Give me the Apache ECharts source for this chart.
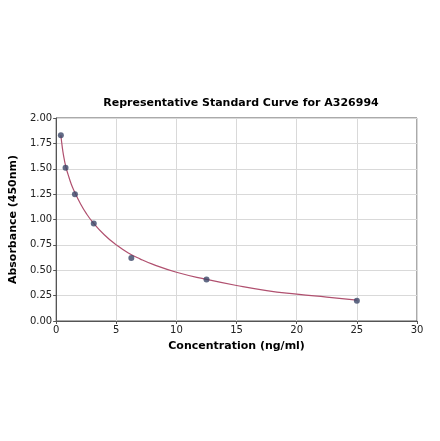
<!DOCTYPE html>
<html>
<head>
<meta charset="utf-8">
<script src="https://cdn.jsdelivr.net/npm/echarts@6/dist/echarts.min.js"></script>
<style>
  html, body { margin: 0; padding: 0; background: #fff; }
  #chart { width: 440px; height: 441px; }
</style>
</head>
<body>
<div id="chart"></div>
<script>
// Points standards
const concentrations = [0.39, 0.78, 1.56, 3.125, 6.25, 12.5, 25];
const absorbances = [1.83, 1.51, 1.25, 0.96, 0.62, 0.41, 0.20];

// Courbe ajustee
const courbeX = [0.39, 0.5, 0.6, 0.8, 1, 1.25, 1.5, 2, 2.5, 3, 4, 5, 6, 7, 8, 10, 12.5, 15, 17.5, 20, 22.5, 25];
const courbeY = [1.83, 1.72, 1.64, 1.52, 1.44, 1.35, 1.28, 1.16, 1.06, 0.98, 0.85, 0.75, 0.67, 0.61, 0.56, 0.48, 0.41, 0.35, 0.30, 0.265, 0.235, 0.205];

const axisColor = "#555";
const police = "DejaVu Sans";

document.addEventListener("DOMContentLoaded", () => {
    const chart = echarts.init(document.getElementById("chart"), null, { renderer: "canvas" });
    const option = {
        backgroundColor: "#fff",
        animation: false,
        textStyle: { fontFamily: police },
        title: {
            text: "Representative Standard Curve for A326994",
            left: 236, top: 93, textAlign: "center",
            textStyle: { fontSize: 11, fontWeight: "bold", color: "#000", fontFamily: police }
        },
        grid: { left: 54, right: 23, top: 118, bottom: 120, show: true, borderColor: axisColor, borderWidth: 1 },
        xAxis: {
            type: "value", min: 0, max: 30, interval: 5,
            name: "Concentration (ng/ml)", nameLocation: "middle", nameGap: 20,
            nameTextStyle: { fontSize: 11, fontWeight: "bold", color: "#000", fontFamily: police },
            axisLine: { lineStyle: { color: axisColor } },
            axisTick: { show: true, length: 3, lineStyle: { color: axisColor } },
            axisLabel: { fontSize: 10, color: "#222", margin: 4 },
            splitLine: { lineStyle: { color: "#d9d9d9" } }
        },
        yAxis: {
            type: "value", min: 0, max: 2, interval: 0.25,
            name: "Absorbance (450nm)", nameLocation: "middle", nameGap: 33,
            nameTextStyle: { fontSize: 11, fontWeight: "bold", color: "#000", fontFamily: police },
            axisLine: { show: true, lineStyle: { color: axisColor } },
            axisTick: { show: true, length: 3, lineStyle: { color: axisColor } },
            axisLabel: { fontSize: 10, color: "#222", margin: 4, formatter: v => v.toFixed(2) },
            splitLine: { lineStyle: { color: "#d9d9d9" } }
        },
        series: [
            {
                type: "line",
                data: courbeX.map((x, i) => [x, courbeY[i]]),
                smooth: true, showSymbol: false,
                lineStyle: { color: "#b0506f", width: 1.2 },
                z: 2
            },
            {
                type: "scatter",
                data: concentrations.map((x, i) => [x, absorbances[i]]),
                symbolSize: 6,
                itemStyle: { color: "#3b4668" },
                z: 3
            }
        ]
    };
    chart.setOption(option);
});
</script>
</body>
</html>
